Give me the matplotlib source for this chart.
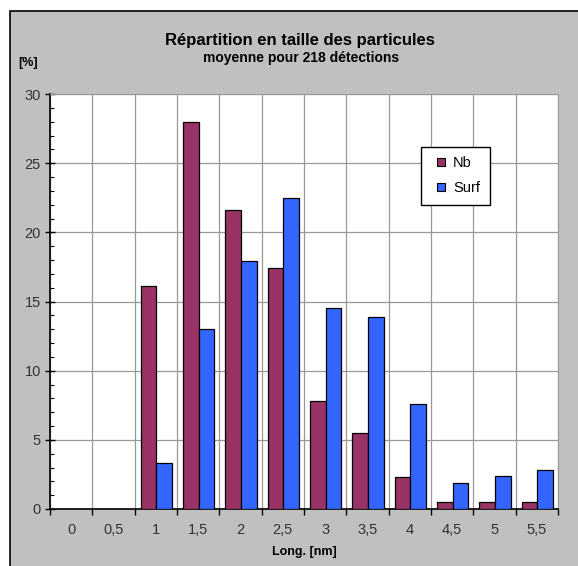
import numpy as np
import matplotlib.pyplot as plt
from matplotlib.patches import Rectangle
from matplotlib.lines import Line2D

plt.rcParams['font.family'] = ['Liberation Sans', 'DejaVu Sans']

categories = ["0", "0,5", "1", "1,5", "2", "2,5", "3", "3,5", "4", "4,5", "5", "5,5"]
nb = [0, 0, 16.1, 28.0, 21.6, 17.4, 7.8, 5.5, 2.3, 0.5, 0.5, 0.5]
surf = [0, 0, 3.3, 13.0, 17.9, 22.5, 14.5, 13.9, 7.6, 1.9, 2.4, 2.8]
NB_COLOR = '#993366'
SURF_COLOR = '#3366FF'

W, H = 578, 566
fig = plt.figure(figsize=(W / 100, H / 100), dpi=100)
fig.patch.set_facecolor('white')

# grey chart area, black frame visible on top and left only (runs off the image on the other sides)
fig.patches.append(Rectangle((10 / W, -5 / H), 580 / W, 560 / H, transform=fig.transFigure,
                             facecolor='#C0C0C0', edgecolor='black', linewidth=1.2, zorder=-5))

ax = fig.add_axes([50 / W, (H - 509) / H, 508 / W, 415 / H])
ax.set_facecolor('white')

x = np.arange(len(categories))
bw = 0.37
ax.bar(x - bw / 2 + 0.01, nb, bw, color=NB_COLOR, edgecolor='black', linewidth=0.9, zorder=3)
ax.bar(x + bw / 2 + 0.01, surf, bw, color=SURF_COLOR, edgecolor='black', linewidth=0.9, zorder=3)

ax.set_xlim(-0.5, len(categories) - 0.5)
ax.set_ylim(0, 30)

ax.set_xticks(x)
ax.set_xticklabels(categories)
ax.set_xticks(np.arange(-0.5, len(categories)), minor=True)
ax.tick_params(axis='x', which='major', length=0, labelsize=10.5, pad=10, labelcolor='#333333')
ax.tick_params(axis='x', which='minor', direction='out', length=4, width=1)

ax.set_yticks(np.arange(0, 31, 5))
ax.set_yticks(np.arange(0, 31, 1), minor=True)
ax.tick_params(axis='y', which='major', direction='inout', length=7, width=1, labelsize=10.5, pad=3,
               labelcolor='#333333')
ax.tick_params(axis='y', which='minor', direction='in', length=3, width=0.8)

ax.grid(True, which='major', axis='y', color='#999999', linewidth=0.9, zorder=0)
ax.grid(True, which='minor', axis='x', color='#999999', linewidth=0.9, zorder=0)
ax.set_axisbelow(True)

for s in ['top', 'right']:
    ax.spines[s].set_color('#999999')
for s in ['left', 'bottom']:
    ax.spines[s].set_color('black')
    ax.spines[s].set_linewidth(1.2)

fig.text(300 / W, 1 - 40 / H, "Répartition en taille des particules", ha='center', va='center',
         fontsize=12, fontweight='bold')
fig.text(301 / W, 1 - 58 / H, "moyenne pour 218 détections", ha='center', va='center',
         fontsize=10, fontweight='bold')
fig.text(28 / W, 1 - 63 / H, "[%]", ha='center', va='center', fontsize=9, fontweight='bold')
fig.text(304 / W, 1 - 552 / H, "Long. [nm]", ha='center', va='center', fontsize=9, fontweight='bold')

handles = [Line2D([], [], linestyle='none', marker='s', markersize=5.5, markerfacecolor=c,
                  markeredgecolor='black', markeredgewidth=0.8) for c in (NB_COLOR, SURF_COLOR)]
leg = ax.legend(handles, ['Nb', 'Surf'], loc='upper left',
                bbox_to_anchor=((421 - 50) / 508, (509 - 147) / 415),
                fancybox=False, frameon=True, edgecolor='black', framealpha=1,
                fontsize=10.5, handlelength=1.4, handletextpad=0.15,
                borderpad=0.65, labelspacing=0.75, borderaxespad=0)
leg.get_frame().set_linewidth(1)

fig.savefig('out.png', dpi=100)
